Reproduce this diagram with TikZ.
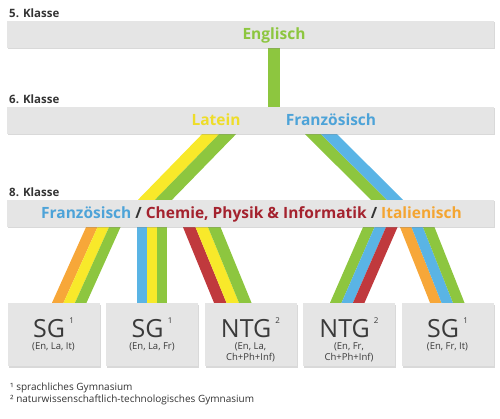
\documentclass[tikz,border=0pt]{standalone}
\usepackage{fontspec}
\setmainfont{Open Sans}
\usepackage{tikz}
\usetikzlibrary{shadows, backgrounds}

\definecolor{cgreen}{HTML}{8DC63F}
\definecolor{cyellow}{HTML}{F8E92A}
\definecolor{cblue}{HTML}{5AB4E5}
\definecolor{cred}{HTML}{C0393D}
\definecolor{corange}{HTML}{F7A739}
\definecolor{tyellow}{HTML}{EEDD2A}
\definecolor{tblue}{HTML}{4DA3D8}
\definecolor{tred}{HTML}{A4222E}
\definecolor{torange}{HTML}{F4A531}
\definecolor{barfill}{HTML}{E5E5E5}
\definecolor{labgray}{HTML}{333333}
\definecolor{boxtext}{HTML}{3A3A3A}

\tikzset{
  bar/.style={fill=barfill, minimum width=487pt, minimum height=27pt, inner sep=0pt,
    drop shadow={shadow xshift=1pt, shadow yshift=-1.5pt, opacity=.3}},
  schoolbox/.style={fill=barfill, minimum width=92pt, minimum height=63pt, inner sep=0pt,
    drop shadow={shadow xshift=1pt, shadow yshift=-1.5pt, opacity=.3}},
  klasse/.style={anchor=base west, inner sep=0pt, font=\fontsize{11.5}{13}\selectfont\bfseries, text=labgray},
  subj/.style={anchor=base, inner sep=0pt, font=\fontsize{15.5}{18}\selectfont\bfseries},
  schooltype/.style={anchor=base, inner sep=0pt, font=\fontsize{25}{28}\selectfont, text=boxtext},
  faecher/.style={anchor=north, inner sep=0pt, align=center, font=\fontsize{9.5}{11}\selectfont, text=boxtext},
  footnote/.style={anchor=base west, inner sep=0pt, font=\fontsize{10}{12}\selectfont, text=labgray},
}
\newcommand{\hochzahl}[1]{\,\raisebox{14pt}{\fontsize{8}{8}\selectfont #1}}

\begin{document}
\begin{tikzpicture}[x=1pt, y=-1pt]
      \useasboundingbox (0,0) rectangle (500,419);
      % Klassen
      \node[klasse] (k5) at (9,17.5) {5. Klasse};
      \node[klasse] (k6) at (9,104) {6. Klasse};
      \node[klasse] (k8) at (9,197) {8. Klasse};
      \node[bar] (bar1) at (250.5,34.5) {};
      \node[bar] (bar2) at (250.5,120.5) {};
      \node[bar] (bar3) at (250.5,213.5) {};
      \node[subj, text=cgreen] (englisch) at (274,40) {Englisch};
      \node[subj, text=tyellow] (latein) at (216,126) {Latein};
      \node[subj, text=tblue] (franz6) at (331,126) {Französisch};
      \node[subj] (wahl8) at (251.5,219) {\color{tblue}Französisch \color{labgray}/
        \color{tred}Chemie, Physik \& Informatik \color{labgray}/ \color{torange}Italienisch};
      % Schulzweige
      \node[schoolbox] (box1) at (53.5,334.5) {};
      \node[schoolbox] (box2) at (152,334.5) {};
      \node[schoolbox] (box3) at (250.5,334.5) {};
      \node[schoolbox] (box4) at (349,334.5) {};
      \node[schoolbox] (box5) at (447.5,334.5) {};
      \node[schooltype] (sg1) at (53.5,337.5) {SG\hochzahl{1}};
      \node[schooltype] (sg2) at (152,337.5) {SG\hochzahl{1}};
      \node[schooltype] (ntg1) at (250.5,337.5) {NTG\hochzahl{2}};
      \node[schooltype] (ntg2) at (349,337.5) {NTG\hochzahl{2}};
      \node[schooltype] (sg3) at (447.5,337.5) {SG\hochzahl{1}};
      \node[faecher] (f1) at (53.5,343) {(En, La, It)};
      \node[faecher] (f2) at (152,343) {(En, La, Fr)};
      \node[faecher] (f3) at (250.5,343) {(En, La,\\Ch+Ph+Inf)};
      \node[faecher] (f4) at (349,343) {(En, Fr,\\Ch+Ph+Inf)};
      \node[faecher] (f5) at (447.5,343) {(En, Fr, It)};
      \node[footnote] (fn1) at (10,390) {¹ sprachliches Gymnasium};
      \node[footnote] (fn2) at (10,402) {² naturwissenschaftlich-technologisches Gymnasium};
      % Streifen
      \begin{scope}[on background layer]
      \fill[cgreen] (268,0 |- bar1.south) rectangle (280,0 |- bar2.north);
      % 6. -> 8. Klasse
      \fill[cyellow] (202,0 |- bar2.south) -- (219,0 |- bar2.south) -- (155,0 |- bar3.north) -- (138,0 |- bar3.north) -- cycle;
      \fill[cgreen] (219,0 |- bar2.south) -- (236,0 |- bar2.south) -- (172,0 |- bar3.north) -- (155,0 |- bar3.north) -- cycle;
      \fill[cgreen] (305,0 |- bar2.south) -- (321,0 |- bar2.south) -- (387,0 |- bar3.north) -- (371,0 |- bar3.north) -- cycle;
      \fill[cblue] (321,0 |- bar2.south) -- (337,0 |- bar2.south) -- (403,0 |- bar3.north) -- (387,0 |- bar3.north) -- cycle;
      % 8. Klasse -> Zweige
      \fill[corange] (86,0 |- bar3.south) -- (97.5,0 |- bar3.south) -- (63.5,0 |- box1.north) -- (52,0 |- box1.north) -- cycle;
      \fill[cyellow] (97.5,0 |- bar3.south) -- (109,0 |- bar3.south) -- (75,0 |- box1.north) -- (63.5,0 |- box1.north) -- cycle;
      \fill[cgreen] (109,0 |- bar3.south) -- (120.5,0 |- bar3.south) -- (86.5,0 |- box1.north) -- (75,0 |- box1.north) -- cycle;
      \fill[cblue] (137,0 |- bar3.south) rectangle (147,0 |- box2.north);
      \fill[cyellow] (147,0 |- bar3.south) rectangle (157,0 |- box2.north);
      \fill[cgreen] (157,0 |- bar3.south) rectangle (167,0 |- box2.north);
      \fill[cred] (183,0 |- bar3.south) -- (195.5,0 |- bar3.south) -- (226.5,0 |- box3.north) -- (214,0 |- box3.north) -- cycle;
      \fill[cyellow] (195.5,0 |- bar3.south) -- (208,0 |- bar3.south) -- (239,0 |- box3.north) -- (226.5,0 |- box3.north) -- cycle;
      \fill[cgreen] (208,0 |- bar3.south) -- (220.5,0 |- bar3.south) -- (251.5,0 |- box3.north) -- (239,0 |- box3.north) -- cycle;
      \fill[cgreen] (363,0 |- bar3.south) -- (374.5,0 |- bar3.south) -- (341.5,0 |- box4.north) -- (330,0 |- box4.north) -- cycle;
      \fill[cblue] (374.5,0 |- bar3.south) -- (386,0 |- bar3.south) -- (353,0 |- box4.north) -- (341.5,0 |- box4.north) -- cycle;
      \fill[cred] (386,0 |- bar3.south) -- (397.5,0 |- bar3.south) -- (364.5,0 |- box4.north) -- (353,0 |- box4.north) -- cycle;
      \fill[corange] (400,0 |- bar3.south) -- (411.5,0 |- bar3.south) -- (441.5,0 |- box5.north) -- (430,0 |- box5.north) -- cycle;
      \fill[cblue] (411.5,0 |- bar3.south) -- (423,0 |- bar3.south) -- (453,0 |- box5.north) -- (441.5,0 |- box5.north) -- cycle;
      \fill[cgreen] (423,0 |- bar3.south) -- (434.5,0 |- bar3.south) -- (464.5,0 |- box5.north) -- (453,0 |- box5.north) -- cycle;
      \end{scope}
    \end{tikzpicture}
\end{document}
